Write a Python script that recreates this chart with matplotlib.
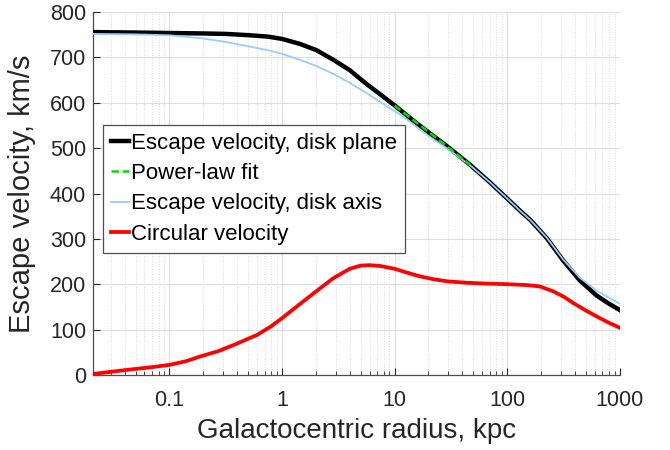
import matplotlib
matplotlib.use("Agg")
import matplotlib.pyplot as plt
from matplotlib.ticker import LogLocator, NullFormatter, FixedLocator, FixedFormatter

plt.rcParams['font.family'] = ['Liberation Sans', 'DejaVu Sans']

# radius (kpc) and velocity (km/s)
r_plane = [0.021, 0.05, 0.1, 0.2, 0.32, 0.52, 0.75, 1, 1.44, 2.03, 2.85, 4.0, 5.6, 7.9, 10.4,
           14.8, 20, 29, 47, 70, 100, 130, 160, 224, 315, 443, 622, 800, 1000]
v_plane = [756, 755, 754, 753, 752, 749, 746, 741, 730, 716, 695, 672, 642, 614, 591,
           560, 535, 505, 463, 425, 389, 362, 342, 302, 252, 208, 175, 157, 143]

r_axis = [0.021, 0.05, 0.1, 0.2, 0.32, 0.52, 0.75, 1, 1.44, 2.03, 2.85, 4.0, 5.6, 7.9, 12,
          20, 29, 47, 70, 100, 130, 160, 224, 315, 443, 622, 800, 1000]
v_axis = [752, 751, 749, 742, 734, 724, 716, 708, 695, 681, 664, 644, 622, 598, 569,
          527, 500, 462, 425, 389, 362, 342, 303, 254, 214, 186, 170, 157]

r_fit = [10, 15, 22, 32, 47]
v_fit = [594, 560, 528, 496, 463]

r_circ = [0.021, 0.042, 0.07, 0.1, 0.14, 0.19, 0.27, 0.373, 0.6, 0.8, 1, 1.44, 2.03, 2.85,
          4.0, 5, 6.0, 7.5, 10, 13.5, 17, 22, 30, 45, 70, 100, 150, 195, 258, 320, 389,
          500, 622, 800, 1000]
v_circ = [2, 11, 17, 22, 30, 41, 52, 66, 88, 107, 125, 156, 185, 213,
          234, 241, 242, 240, 234, 224, 217, 211, 206, 203, 201, 200, 198, 195, 184, 172, 158,
          142, 129, 115, 104]

fig = plt.figure(figsize=(6.7, 4.5), dpi=100)
ax = fig.add_axes([0.139, 0.167, 0.786, 0.806])

ax.plot(r_plane, v_plane, color='black', lw=3.2, label='Escape velocity, disk plane', zorder=3)
ax.plot(r_fit, v_fit, color='#00dd00', lw=1.8, ls=(0, (3, 1.5)), label='Power-law fit', zorder=5)
ax.plot(r_axis, v_axis, color='#99ccff', lw=1.3, label='Escape velocity, disk axis', zorder=4)
ax.plot(r_circ, v_circ, color='#ff0000', lw=2.7, label='Circular velocity', zorder=3)

ax.set_xscale('log')
ax.set_xlim(0.021, 1000)
ax.set_ylim(0, 800)
ax.set_yticks(range(0, 801, 100))
ax.xaxis.set_major_locator(FixedLocator([0.1, 1, 10, 100, 1000]))
ax.xaxis.set_major_formatter(FixedFormatter(['0.1', '1', '10', '100', '1000']))
ax.xaxis.set_minor_locator(LogLocator(base=10, subs=range(2, 10)))
ax.xaxis.set_minor_formatter(NullFormatter())

ax.grid(True, which='major', color='#dedede', lw=0.8)
ax.grid(True, which='minor', axis='x', color='#d8d8d8', lw=0.7, ls=':')

for s in ['top', 'right']:
    ax.spines[s].set_visible(False)
for s in ['left', 'bottom']:
    ax.spines[s].set_color('#4d4d4d')
    ax.spines[s].set_linewidth(0.9)
ax.tick_params(which='both', direction='in', colors='#262626', labelsize=15.5, length=5)
ax.tick_params(axis='x', pad=11)
ax.tick_params(axis='y', pad=5)
ax.tick_params(which='minor', length=3)

ax.set_xlabel('Galactocentric radius, kpc', fontsize=20, color='#262626')
ax.set_ylabel('Escape velocity, km/s', fontsize=21, color='#262626')
ax.xaxis.set_label_coords(0.5, -0.118)
ax.yaxis.set_label_coords(-0.108, 0.5)

leg = ax.legend(loc='upper left', bbox_to_anchor=(0.019, 0.689), fontsize=16, frameon=True,
                fancybox=False, edgecolor='#4d4d4d', handlelength=0.8, handletextpad=0.1,
                borderpad=0.35, labelspacing=0.42, borderaxespad=0, framealpha=1)
leg.get_frame().set_linewidth(0.9)

fig.savefig('out.png', dpi=100)
